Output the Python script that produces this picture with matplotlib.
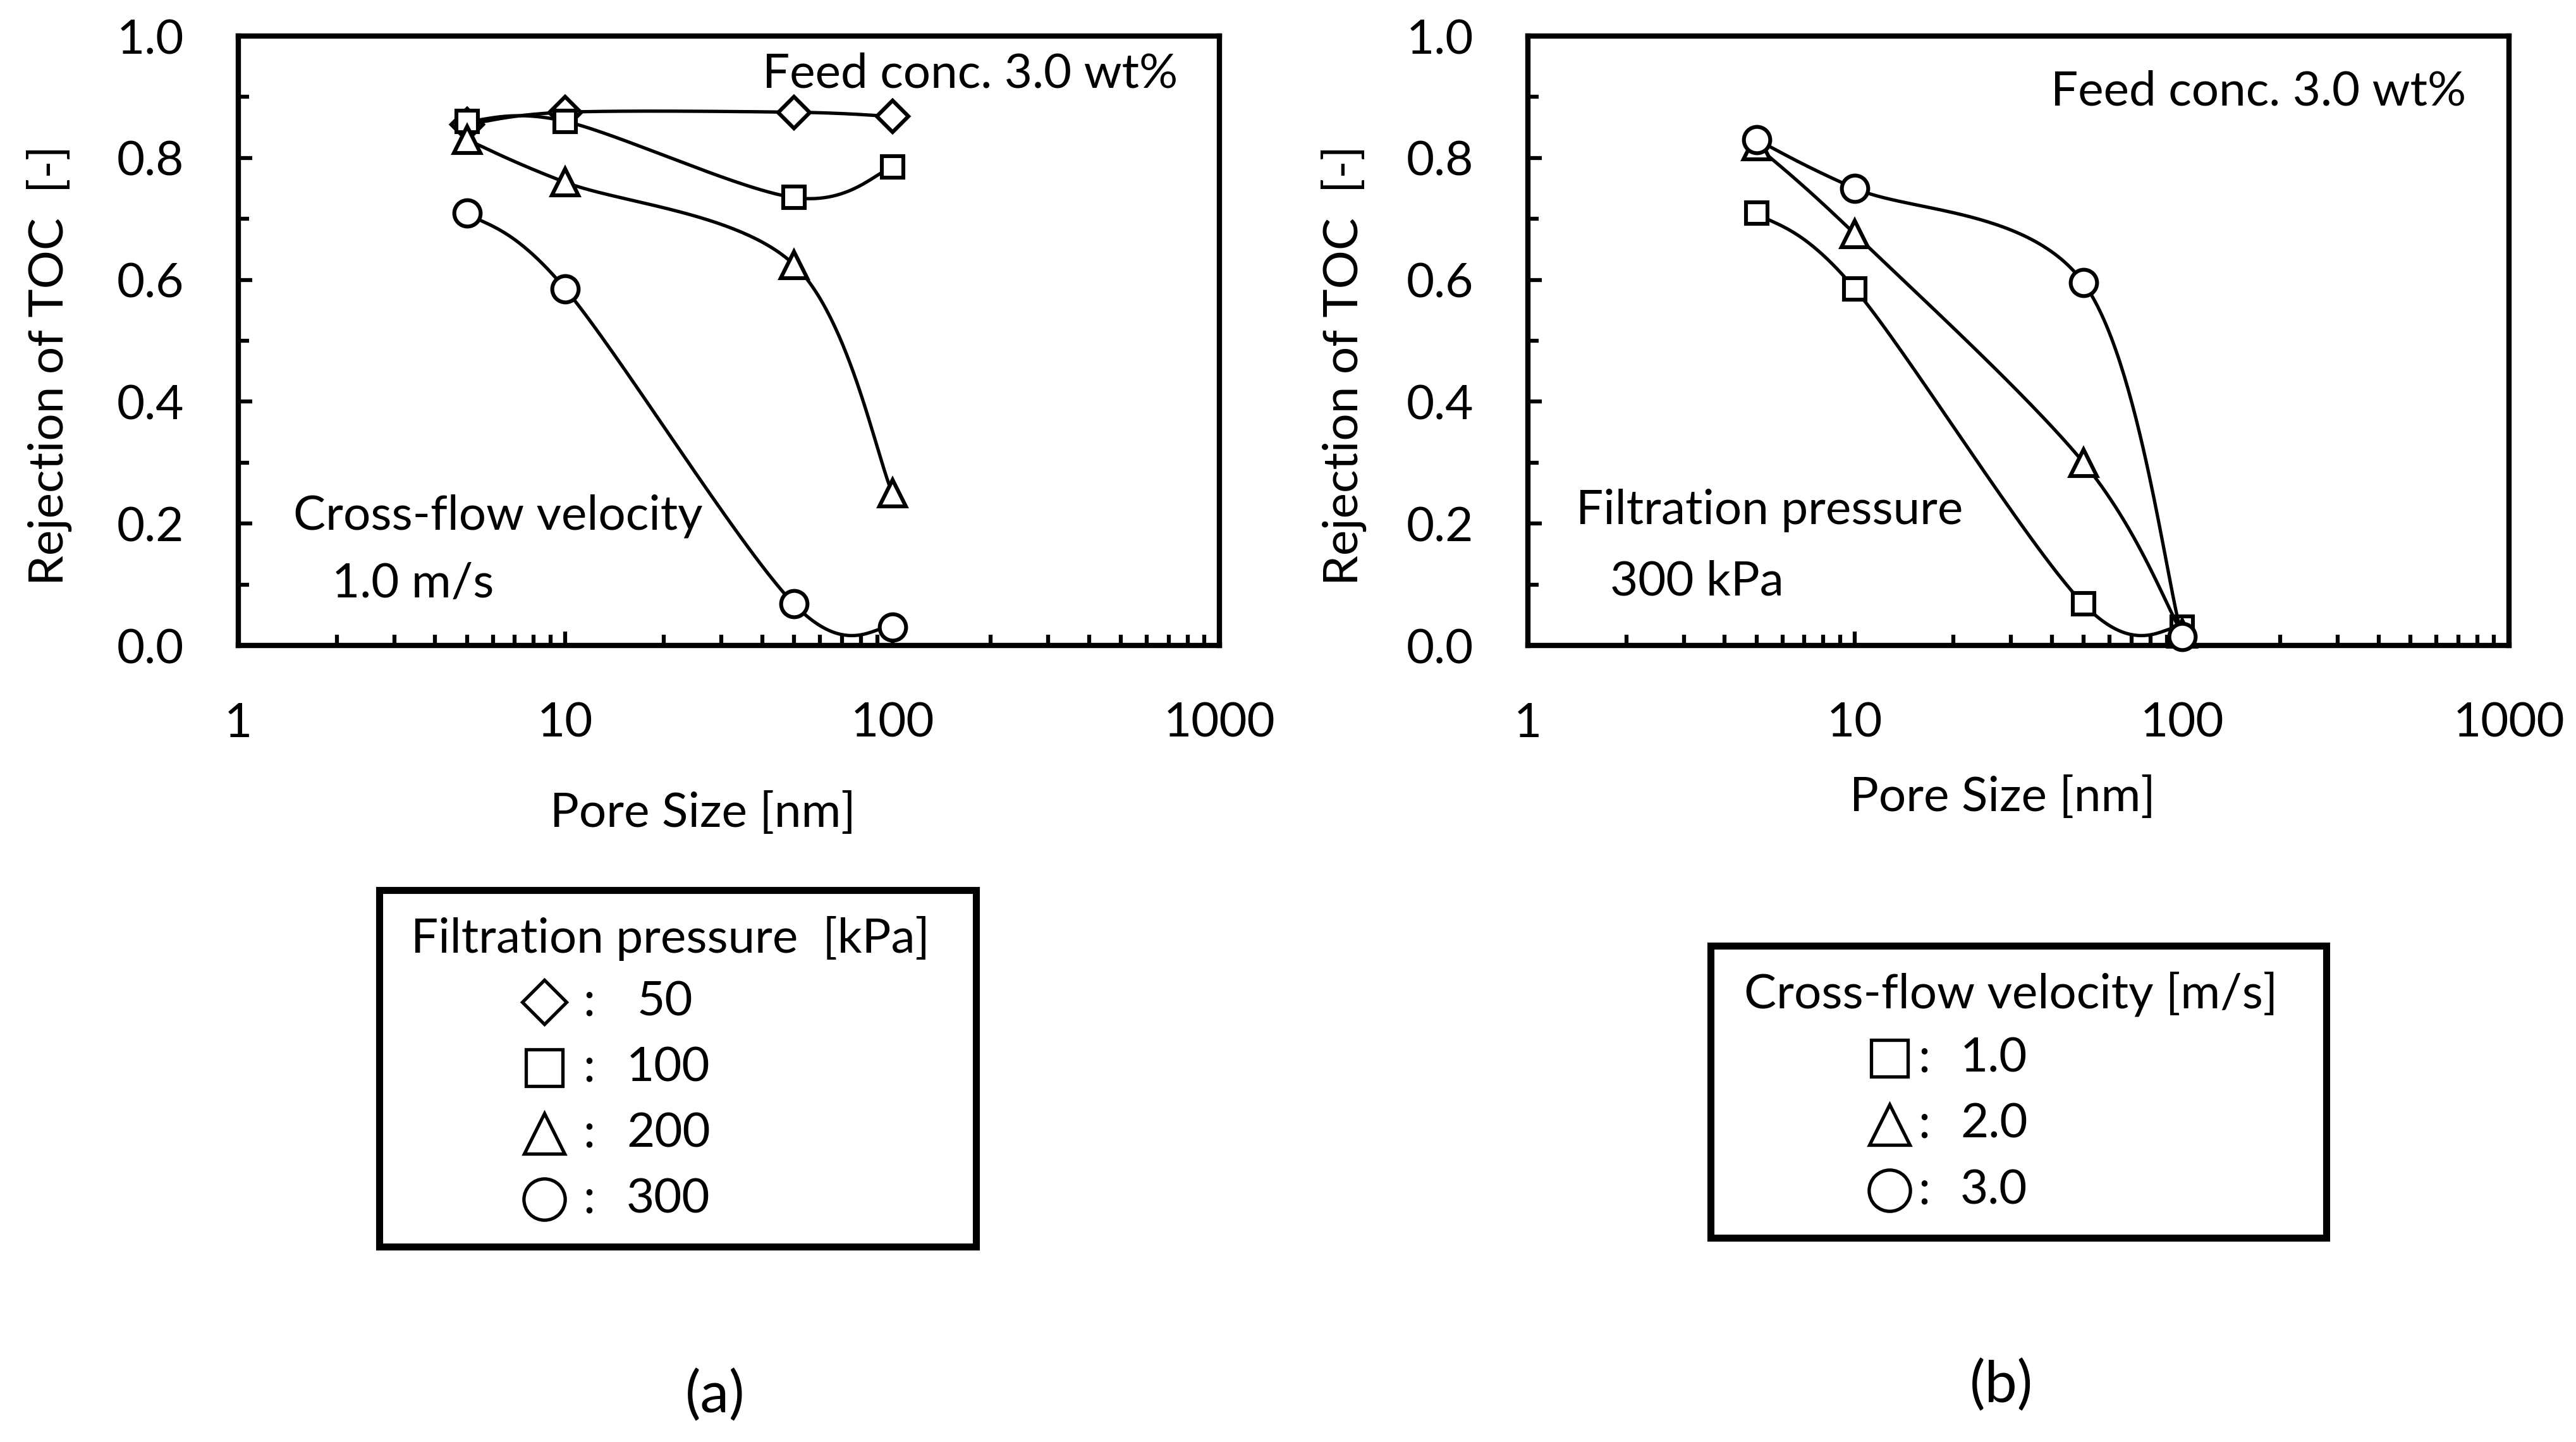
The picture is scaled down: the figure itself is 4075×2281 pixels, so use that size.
import numpy as np
import matplotlib
matplotlib.use("Agg")
import matplotlib.pyplot as plt
from matplotlib.lines import Line2D
from matplotlib.patches import Rectangle
from matplotlib.ticker import FixedLocator, LogLocator, NullFormatter, FormatStrFormatter

plt.rcParams['font.family'] = ['Lato', 'DejaVu Sans']

pore_size = [5, 10, 50, 100]

# (a) cross-flow velocity 1.0 m/s, series by filtration pressure [kPa]
a_labels = ["50", "100", "200", "300"]
a_p50 = [0.855, 0.875, 0.875, 0.868]
a_p100 = [0.860, 0.860, 0.735, 0.785]
a_p200 = [0.830, 0.760, 0.625, 0.250]
a_p300 = [0.710, 0.585, 0.068, 0.030]

# (b) filtration pressure 300 kPa, series by cross-flow velocity [m/s]
b_labels = ["1.0", "2.0", "3.0"]
b_v1 = [0.710, 0.585, 0.068, 0.030]
b_v2 = [0.820, 0.675, 0.300, 0.020]
b_v3 = [0.830, 0.750, 0.595, 0.015]

y_ticks = [0.0, 0.2, 0.4, 0.6, 0.8, 1.0]
x_ticks = [1, 10, 100, 1000]

W, H = 4075, 2281
fig = plt.figure(figsize=(W / 100, H / 100), dpi=100)

FS = 55
LW_SPINE = 6
LW_LINE = 3.8
MEW = 4.4
MSIZE = {'D': 25, 's': 25, '^': 30, 'o': 30}
LMSIZE = {'D': 36, 's': 42, '^': 46, 'o': 47}


def smooth(ax, xs, ys, n=60):
    # Excel-style smoothed line: Catmull-Rom Bezier in display space
    pts = ax.transData.transform(np.column_stack([xs, ys]))
    P = np.vstack([pts[0], pts, pts[-1]])
    out = []
    for i in range(1, len(P) - 2):
        p0, p1, p2, p3 = P[i - 1], P[i], P[i + 1], P[i + 2]
        c1 = p1 + (p2 - p0) / 6.0
        c2 = p2 - (p3 - p1) / 6.0
        t = np.linspace(0, 1, n)[:, None]
        seg = ((1 - t) ** 3) * p1 + 3 * ((1 - t) ** 2) * t * c1 + 3 * (1 - t) * t ** 2 * c2 + t ** 3 * p2
        out.append(seg)
    out = np.vstack(out)
    d = ax.transData.inverted().transform(out)
    return d[:, 0], d[:, 1]


def setup(ax, xlab_pos, ylab_pos):
    ax.set_xscale('log')
    ax.set_xlim(1, 1000)
    ax.set_ylim(0, 1.0)
    ax.xaxis.set_major_locator(FixedLocator(x_ticks))
    ax.xaxis.set_minor_locator(LogLocator(base=10, subs=np.arange(2, 10)))
    ax.xaxis.set_minor_formatter(NullFormatter())
    ax.set_xticklabels([str(v) for v in x_ticks])
    ax.yaxis.set_major_locator(FixedLocator(y_ticks))
    ax.yaxis.set_minor_locator(FixedLocator([0.1, 0.3, 0.5, 0.7, 0.9]))
    ax.yaxis.set_major_formatter(FormatStrFormatter('%.1f'))
    for s in ax.spines.values():
        s.set_linewidth(LW_SPINE)
    ax.tick_params(which='major', direction='in', length=16, width=4.5,
                   top=False, right=False, labelsize=FS)
    ax.tick_params(which='minor', direction='in', length=12, width=4.5,
                   top=False, right=False)
    ax.tick_params(axis='x', which='major', pad=64)
    ax.tick_params(axis='y', which='major', pad=62)
    ax.set_xlabel('Pore Size [nm]', fontsize=FS)
    ax.set_ylabel('Rejection of TOC  [-]', fontsize=FS)
    ax.xaxis.label.set_va('center')
    ax.yaxis.label.set_va('center')
    ax.xaxis.set_label_coords(*xlab_pos)
    ax.yaxis.set_label_coords(*ylab_pos)


def series(ax, ys, marker, z):
    xs, yy = smooth(ax, pore_size, ys)
    ax.plot(xs, yy, color='black', lw=LW_LINE, zorder=z, solid_capstyle='round')
    ax.plot(pore_size, ys, linestyle='none', marker=marker, ms=MSIZE[marker], mew=MEW,
            mfc='white', mec='black', zorder=z + 0.5, clip_on=False)


axA = fig.add_axes([377 / W, 1 - 1021 / H, (1929 - 377) / W, (1021 - 57) / H])
axB = fig.add_axes([2417 / W, 1 - 1021 / H, (3969 - 2417) / W, (1021 - 57) / H])
setup(axA, (0.4736, -0.275), (-0.1927, 0.46))
setup(axB, (0.484, -0.249), (-0.1875, 0.46))

series(axA, a_p50, 'D', 2)
series(axA, a_p100, 's', 3)
series(axA, a_p200, '^', 4)
series(axA, a_p300, 'o', 5)

series(axB, b_v1, 's', 2)
series(axB, b_v2, '^', 3)
series(axB, b_v3, 'o', 4)


def ftext(x, y, s, size=FS, **kw):
    fig.text(x / W, 1 - y / H, s, fontsize=size, va='center', **kw)


ftext(1206, 117, 'Feed conc. 3.0 wt%')
ftext(464, 816, 'Cross-flow velocity')
ftext(525, 923, '1.0 m/s')
ftext(3244, 145, 'Feed conc. 3.0 wt%')
ftext(2493, 808, 'Filtration pressure')
ftext(2547, 920, '300 kPa')
ftext(1131, 2208, '(a)', size=66, ha='center')
ftext(3166, 2192, '(b)', size=66, ha='center')


def box(x0, y0, x1, y1):
    fig.add_artist(Rectangle((x0 / W, 1 - y1 / H), (x1 - x0) / W, (y1 - y0) / H,
                             transform=fig.transFigure, fill=False, lw=8, ec='black',
                             joinstyle='miter'))


def legmark(x, y, marker):
    fig.add_artist(Line2D([x / W], [1 - y / H], transform=fig.transFigure, marker=marker,
                          ms=LMSIZE[marker], mew=3.8, mfc='white', mec='black', linestyle='none'))


box(600, 1408, 1544, 1972)
ftext(650, 1485, 'Filtration pressure  [kPa]')
a_markers = ['D', 's', '^', 'o']
for i, (lab, mk) in enumerate(zip(a_labels, a_markers)):
    y = 1585 + i * 104
    legmark(861, y, mk)
    ftext(922, y, ':')
    ftext(991 if len(lab) == 3 else 1008, y, lab)

box(2706, 1496, 3680, 1958)
ftext(2759, 1572, 'Cross-flow velocity [m/s]')
b_markers = ['s', '^', 'o']
for i, (lab, mk) in enumerate(zip(b_labels, b_markers)):
    y = 1674 + i * 104.5
    legmark(2989, y, mk)
    ftext(3034, y, ':')
    ftext(3101, y, lab)

fig.savefig('out.png', dpi=100, facecolor='white')
